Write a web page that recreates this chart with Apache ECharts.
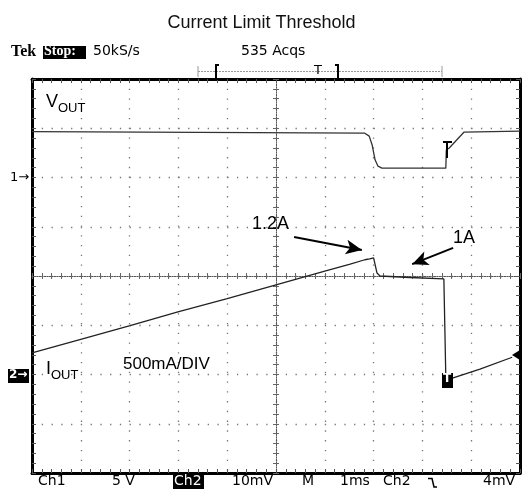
<!DOCTYPE html>
<html>
<head>
<meta charset="utf-8">
<script src="https://cdn.jsdelivr.net/npm/echarts@6/dist/echarts.min.js"></script>
<style>
  html, body { margin: 0; padding: 0; background: #fff; }
  #chart { width: 523px; height: 490px; }
</style>
</head>
<body>
<div id="chart"></div>
<script>
// x in divisions (0..10, 1ms/div), y in divisions (-4..4)
var voutX = [0, 6.82, 6.91, 6.97, 7.03, 7.09, 7.17, 8.48, 8.49, 8.55, 8.85, 10]
var voutY = [2.93, 2.90, 2.84, 2.66, 2.36, 2.23, 2.19, 2.19, 2.56, 2.60, 2.92, 2.94]

var ioutX = [0, 0.98, 2.01, 2.99, 4.00, 5.00, 6.00, 6.52, 6.82, 6.92, 7.00, 7.03, 7.07, 7.13, 7.75, 8.44, 8.48, 8.63, 9.18, 9.84]
var ioutY = [-1.56, -1.29, -1.01, -0.73, -0.46, -0.18, 0.10, 0.24, 0.33, 0.35, 0.37, 0.39, 0.06, 0.00, -0.03, -0.06, -2.07, -2.07, -1.89, -1.65]

// annotation arrows (tail -> head), in divisions
var arrow12 = [[5.37, 0.79], [6.76, 0.53]]
var arrow1 = [[8.63, 0.57], [7.79, 0.24]]

var xTicks = [0, 10, 1]
var yTicks = [-4, 4, 1]

function pairs(xs, ys) {
  return xs.map(function (x, i) { return [x, ys[i]] })
}

var chart = echarts.init(document.getElementById('chart'))

var frameLine = { show: true, onZero: false, lineStyle: { color: '#000', width: 3 } }
var frameTick = { show: true, inside: true, length: 4, lineStyle: { color: '#555' } }
var frameMinor = { show: true, splitNumber: 5, length: 4, lineStyle: { color: '#555' } }
var gridDots = { show: true, lineStyle: { color: '#777', width: 1.3, type: [1.3, 8.46] } }
var centerLine = { show: true, onZero: true, lineStyle: { color: '#555', width: 1, type: [1, 1.5] } }
var centerTick = { show: true, length: 3, lineStyle: { color: '#666' } }
var centerMinor = { show: true, splitNumber: 5, length: 3, lineStyle: { color: '#666' } }

function xAx(pos, extra) {
  return Object.assign({
    type: 'value', min: xTicks[0], max: xTicks[1], interval: xTicks[2], position: pos,
    axisLabel: { show: false }, splitLine: { show: false }
  }, extra)
}
function yAx(pos, extra) {
  return Object.assign({
    type: 'value', min: yTicks[0], max: yTicks[1], interval: yTicks[2], position: pos,
    axisLabel: { show: false }, splitLine: { show: false }
  }, extra)
}

var monoFont = 'DejaVu Sans'
var txt = function (x, y, s, size, extra) {
  return {
    type: 'text', left: x, top: y, z: 100,
    style: Object.assign({ text: s, font: size + 'px ' + monoFont, fill: '#000' }, extra || {})
  }
}

chart.setOption({
  animation: false,
  backgroundColor: '#fff',
  title: {
    text: 'Current Limit Threshold',
    left: 'center', top: 9,
    textStyle: { fontFamily: 'Liberation Sans', fontSize: 18, fontWeight: 'normal', color: '#111' }
  },
  grid: { left: 32, top: 79, width: 488, height: 394 },
  xAxis: [
    xAx('bottom', { axisLine: frameLine, axisTick: frameTick, minorTick: frameMinor, splitLine: gridDots }),
    xAx('top', { axisLine: frameLine, axisTick: frameTick, minorTick: frameMinor }),
    xAx('bottom', { axisLine: centerLine, axisTick: Object.assign({ inside: true }, centerTick), minorTick: centerMinor }),
    xAx('bottom', { axisLine: centerLine, axisTick: Object.assign({ inside: false }, centerTick), minorTick: centerMinor })
  ],
  yAxis: [
    yAx('left', { axisLine: frameLine, axisTick: frameTick, minorTick: frameMinor, splitLine: gridDots }),
    yAx('right', { axisLine: frameLine, axisTick: frameTick, minorTick: frameMinor }),
    yAx('left', { axisLine: Object.assign({}, centerLine, { onZero: false }), offset: -244, axisTick: Object.assign({ inside: true }, centerTick), minorTick: centerMinor }),
    yAx('left', { axisLine: Object.assign({}, centerLine, { onZero: false }), offset: -244, axisTick: Object.assign({ inside: false }, centerTick), minorTick: centerMinor })
  ],
  series: [
    {
      name: 'VOUT', type: 'line', showSymbol: false, silent: true,
      data: pairs(voutX, voutY),
      lineStyle: { color: '#333', width: 1.3 }
    },
    {
      name: 'IOUT', type: 'line', showSymbol: false, silent: true,
      data: pairs(ioutX, ioutY),
      lineStyle: { color: '#222', width: 1.3 },
      markLine: {
        silent: true, symbol: ['none', 'arrow'], symbolSize: [11, 16],
        label: { show: false },
        lineStyle: { color: '#000', width: 2, type: 'solid' },
        data: [
          [{ coord: arrow12[0] }, { coord: arrow12[1] }],
          [{ coord: arrow1[0] }, { coord: arrow1[1] }]
        ]
      }
    }
  ],
  graphic: [
    // header
    { type: 'text', left: 11, top: 44, z: 100, style: { text: 'Tek', font: 'bold 16px Liberation Serif', fill: '#000' } },
    { type: 'rect', left: 43, top: 46, z: 99, shape: { width: 43, height: 13 }, style: { fill: '#000' } },
    { type: 'text', left: 44, top: 44, z: 100, style: { text: 'Stop:', font: 'bold 14px Liberation Serif', fill: '#fff' } },
    txt(93, 44, '50kS/s', 14),
    txt(241, 44, '535 Acqs', 14),
    { type: 'line', z: 100, shape: { x1: 198, y1: 71.5, x2: 442, y2: 71.5 }, style: { stroke: '#999', lineWidth: 1, lineDash: [2, 1] } },
    { type: 'line', z: 100, shape: { x1: 198, y1: 66, x2: 198, y2: 77 }, style: { stroke: '#999', lineWidth: 1 } },
    { type: 'line', z: 100, shape: { x1: 442, y1: 66, x2: 442, y2: 77 }, style: { stroke: '#999', lineWidth: 1 } },
    { type: 'polyline', z: 100, shape: { points: [[219, 65], [216, 65], [216, 79], [219, 79]] }, style: { stroke: '#000', lineWidth: 2, fill: null } },
    { type: 'polyline', z: 100, shape: { points: [[335, 65], [338, 65], [338, 79], [335, 79]] }, style: { stroke: '#000', lineWidth: 2, fill: null } },
    txt(314, 64, 'T', 13),
    // footer
    txt(38, 474, 'Ch1', 14),
    txt(112, 474, '5 V', 14),
    { type: 'rect', left: 173, top: 475, z: 99, shape: { width: 31, height: 14 }, style: { fill: '#000' } },
    txt(174, 474, 'Ch2', 14, { fill: '#fff' }),
    txt(232, 474, '10mV', 14),
    txt(302, 474, 'M', 14),
    txt(340, 474, '1ms', 14),
    txt(383, 474, 'Ch2', 14),
    { type: 'polyline', z: 100, shape: { points: [[428, 478.5], [432, 478.5], [434, 487], [437, 487]] }, style: { stroke: '#000', lineWidth: 1.5, fill: null } },
    txt(483, 474, '4mV', 14),
    // channel markers
    txt(10, 171, '1\u2192', 13),
    { type: 'rect', left: 8, top: 369, z: 99, shape: { width: 21, height: 14 }, style: { fill: '#000' } },
    txt(9, 369, '2\u2192', 12, { fill: '#fff', font: 'bold 12px DejaVu Sans' }),
    // trigger markers
    { type: 'polyline', z: 100, shape: { points: [[443, 142], [452, 142]] }, style: { stroke: '#000', lineWidth: 2 } },
    { type: 'line', z: 100, shape: { x1: 447, y1: 142, x2: 447, y2: 158 }, style: { stroke: '#000', lineWidth: 2 } },
    { type: 'rect', left: 442, top: 373, z: 99, shape: { width: 11, height: 15 }, style: { fill: '#000' } },
    txt(443, 373, 'T', 12, { fill: '#fff', font: 'bold 12px DejaVu Sans' }),
    { type: 'polygon', z: 100, shape: { points: [[512, 355], [520, 350], [520, 360]] }, style: { fill: '#000' } },
    // labels
    {
      type: 'text', left: 46, top: 93, z: 100,
      style: {
        text: '{v|V}{s|OUT}', fill: '#000',
        rich: { v: { fontFamily: 'Liberation Sans', fontSize: 18, verticalAlign: 'bottom' }, s: { fontFamily: 'Liberation Sans', fontSize: 13, verticalAlign: 'bottom', padding: [0, 0, -4, 0] } }
      }
    },
    {
      type: 'text', left: 46, top: 360, z: 100,
      style: {
        text: '{v|I}{s|OUT}', fill: '#000',
        rich: { v: { fontFamily: 'Liberation Sans', fontSize: 18, verticalAlign: 'bottom' }, s: { fontFamily: 'Liberation Sans', fontSize: 13, verticalAlign: 'bottom', padding: [0, 0, -4, 0] } }
      }
    },
    { type: 'text', left: 123, top: 356, z: 100, style: { text: '500mA/DIV', font: '17px Liberation Sans', fill: '#000' } },
    { type: 'text', left: 252, top: 215, z: 100, style: { text: '1.2A', font: '18px Liberation Sans', fill: '#000' } },
    { type: 'text', left: 453, top: 229, z: 100, style: { text: '1A', font: '18px Liberation Sans', fill: '#000' } }
  ]
})
</script>
</body>
</html>
